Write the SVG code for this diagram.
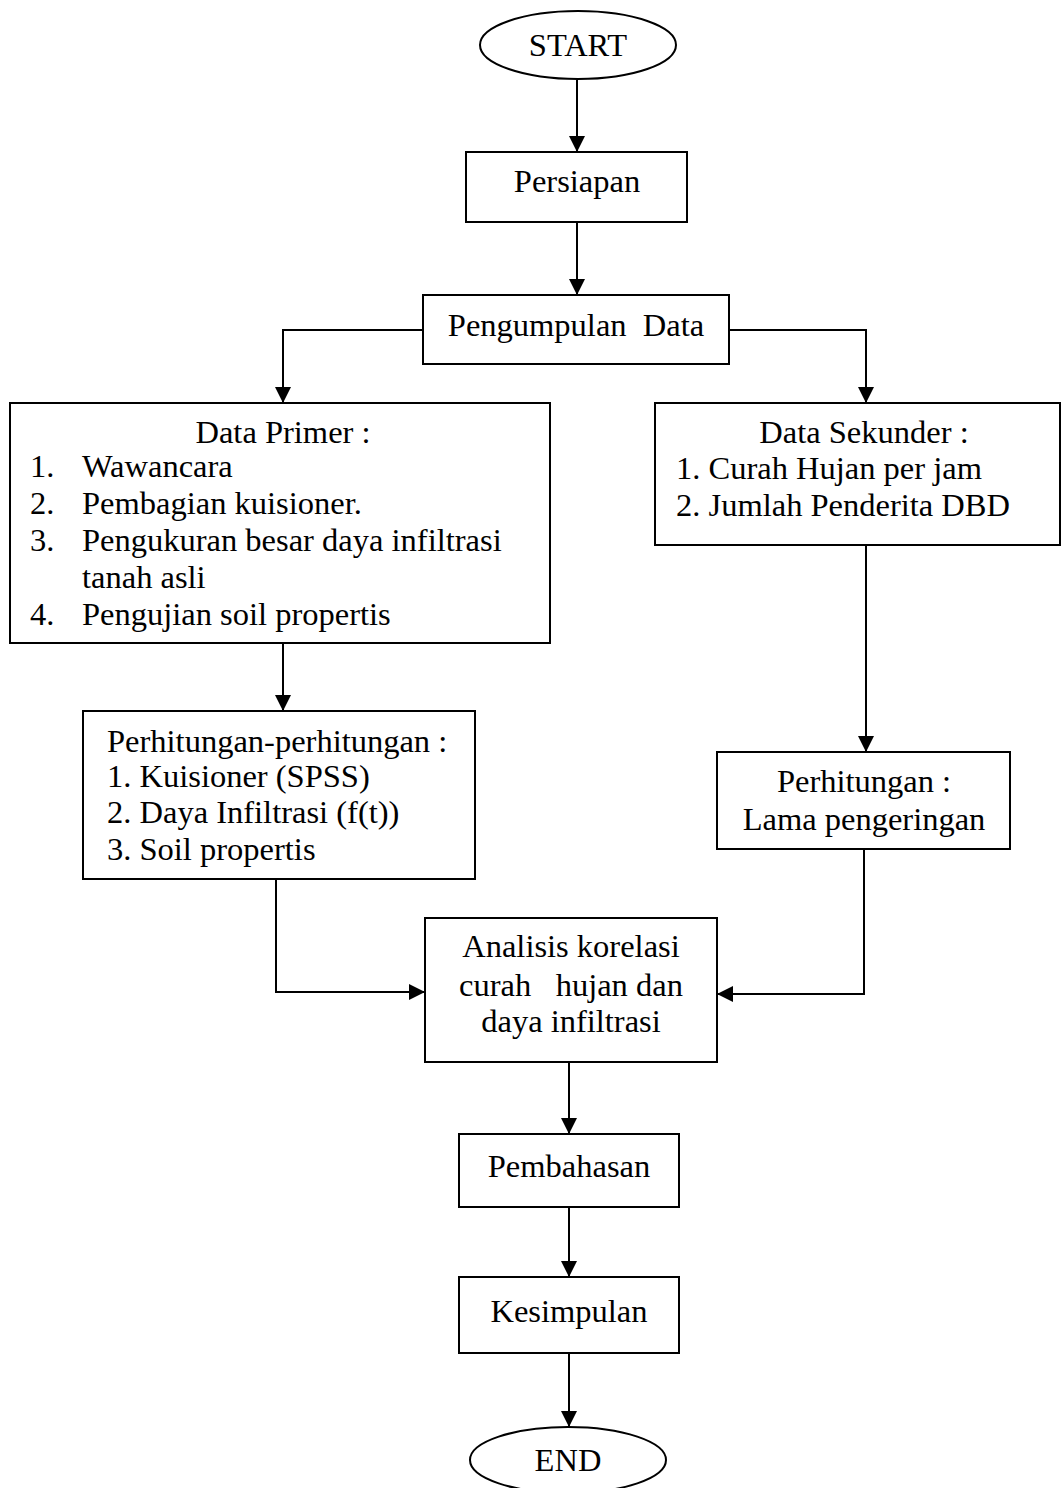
<svg xmlns="http://www.w3.org/2000/svg" width="1062" height="1488" viewBox="0 0 1062 1488">
<style>
.n{fill:#fff;stroke:#000;stroke-width:2}
.t{font-family:"Liberation Serif","Times New Roman",serif;font-size:32.5px;fill:#000}
.c{text-anchor:middle}
.e{fill:none;stroke:#000;stroke-width:2}
</style>
<defs>
<marker id="a" viewBox="0 0 10 10" refX="10" refY="5" markerWidth="16" markerHeight="16" markerUnits="userSpaceOnUse" orient="auto">
<path d="M0,0 L10,5 L0,10 z" fill="#000"/>
</marker>
</defs>
<rect width="1062" height="1488" fill="#fff"/>
<g id="connectors">
<path class="e" d="M577,80 V152" marker-end="url(#a)"/>
<path class="e" d="M577,222 V295" marker-end="url(#a)"/>
<path class="e" d="M423,330 H283 V403" marker-end="url(#a)"/>
<path class="e" d="M729,330 H866 V403" marker-end="url(#a)"/>
<path class="e" d="M283,643 V711" marker-end="url(#a)"/>
<path class="e" d="M866,545 V752" marker-end="url(#a)"/>
<path class="e" d="M276,879 V992 H425" marker-end="url(#a)"/>
<path class="e" d="M864,849 V994 H717" marker-end="url(#a)"/>
<path class="e" d="M569,1062 V1134" marker-end="url(#a)"/>
<path class="e" d="M569,1207 V1277" marker-end="url(#a)"/>
<path class="e" d="M569,1353 V1427" marker-end="url(#a)"/>
</g>
<g id="start">
<ellipse class="n" cx="578" cy="45" rx="98" ry="34"/>
<text class="t c" x="578" y="56">START</text>
</g>
<g id="persiapan">
<rect class="n" x="466" y="152" width="221" height="70"/>
<text class="t c" x="577" y="192">Persiapan</text>
</g>
<g id="pengumpulan">
<rect class="n" x="423" y="295" width="306" height="69"/>
<text class="t c" x="576" y="336" xml:space="preserve">Pengumpulan  Data</text>
</g>
<g id="data-primer">
<rect class="n" x="10" y="403" width="540" height="240"/>
<text class="t c" x="283" y="443">Data Primer :</text>
<text class="t" x="30" y="477">1.</text><text class="t" x="82" y="477">Wawancara</text>
<text class="t" x="30" y="514">2.</text><text class="t" x="82" y="514">Pembagian kuisioner.</text>
<text class="t" x="30" y="551">3.</text><text class="t" x="82" y="551">Pengukuran besar daya infiltrasi</text>
<text class="t" x="82" y="588">tanah asli</text>
<text class="t" x="30" y="625">4.</text><text class="t" x="82" y="625">Pengujian soil propertis</text>
</g>
<g id="data-sekunder">
<rect class="n" x="655" y="403" width="405" height="142"/>
<text class="t c" x="864" y="443">Data Sekunder :</text>
<text class="t" x="676" y="479">1. Curah Hujan per jam</text>
<text class="t" x="676" y="516">2. Jumlah Penderita DBD</text>
</g>
<g id="perhitungan-perhitungan">
<rect class="n" x="83" y="711" width="392" height="168"/>
<text class="t" x="107" y="752">Perhitungan-perhitungan :</text>
<text class="t" x="107" y="787">1. Kuisioner (SPSS)</text>
<text class="t" x="107" y="823">2. Daya Infiltrasi (f(t))</text>
<text class="t" x="107" y="860">3. Soil propertis</text>
</g>
<g id="perhitungan-lama">
<rect class="n" x="717" y="752" width="293" height="97"/>
<text class="t c" x="864" y="792">Perhitungan :</text>
<text class="t c" x="864" y="830">Lama pengeringan</text>
</g>
<g id="analisis">
<rect class="n" x="425" y="918" width="292" height="144"/>
<text class="t c" x="571" y="957">Analisis korelasi</text>
<text class="t c" x="571" y="996" xml:space="preserve">curah   hujan dan</text>
<text class="t c" x="571" y="1032">daya infiltrasi</text>
</g>
<g id="pembahasan">
<rect class="n" x="459" y="1134" width="220" height="73"/>
<text class="t c" x="569" y="1177">Pembahasan</text>
</g>
<g id="kesimpulan">
<rect class="n" x="459" y="1277" width="220" height="76"/>
<text class="t c" x="569" y="1322">Kesimpulan</text>
</g>
<g id="end">
<ellipse class="n" cx="568" cy="1460" rx="98" ry="33"/>
<text class="t c" x="568" y="1471">END</text>
</g>
</svg>
